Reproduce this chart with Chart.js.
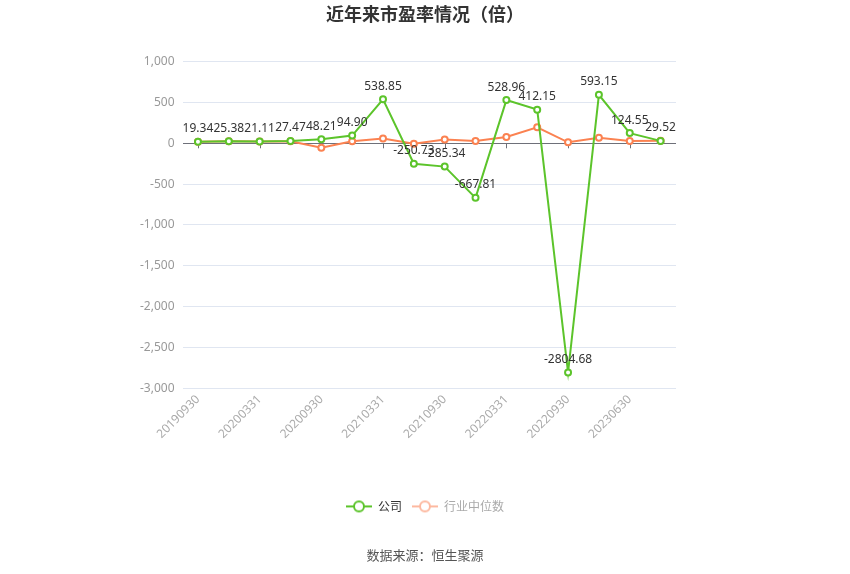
<!DOCTYPE html>
<html>
<head>
<meta charset="utf-8">
<script src="https://cdn.jsdelivr.net/npm/chart.js@4/dist/chart.umd.min.js"></script>
<style>
  html, body { margin: 0; padding: 0; background: #fff; }
  #wrap { width: 850px; height: 574px; }
</style>
</head>
<body>
<div id="wrap"><canvas id="peChart"></canvas></div>
<script>
const dates = ["20190930", "20191231", "20200331", "20200630", "20200930", "20201231", "20210331", "20210630",
  "20210930", "20211231", "20220331", "20220630", "20220930", "20230331", "20230630", "20230930"];
const companyPE = [19.34, 25.38, 21.11, 27.47, 48.21, 94.90, 538.85, -250.73,
  -285.34, -667.81, 528.96, 412.15, -2804.68, 593.15, 124.55, 29.52];
const industryPE = [20, 25, 22, 25, -53, 26, 60, -5, 45, 28, 77, 195, 12, 69, 28, 32];
const yTicks = [1000, 500, 0, -500, -1000, -1500, -2000, -2500, -3000];

const green = "#5cc42b";
const orange = "#fb8251";
const FONT = "'Noto Sans', 'Noto Sans CJK SC', sans-serif";
const CJK = "'Noto Sans CJK SC', sans-serif";

// legend icon: short line with hollow circle in the middle
function legendIcon(color) {
  const c = document.createElement("canvas");
  c.width = 26; c.height = 14;
  const g = c.getContext("2d");
  g.strokeStyle = color;
  g.lineWidth = 2;
  g.beginPath(); g.moveTo(0, 7); g.lineTo(26, 7); g.stroke();
  g.fillStyle = "#fff";
  g.beginPath(); g.arc(13, 7, 5, 0, Math.PI * 2); g.fill(); g.stroke();
  return c;
}
const icons = [legendIcon(green), legendIcon("#fdb9a0")];
const legendTextColors = ["#333", "#aaa"];

// value labels above the company points
const valueLabels = {
  id: "valueLabels",
  afterDatasetsDraw(chart) {
    const ctx = chart.ctx;
    const meta = chart.getDatasetMeta(0);
    ctx.save();
    ctx.font = "12px " + FONT;
    ctx.fillStyle = "#333";
    ctx.textAlign = "center";
    ctx.textBaseline = "bottom";
    meta.data.forEach((pt, i) => {
      ctx.fillText(companyPE[i].toFixed(2), pt.x, pt.y - 7);
    });
    ctx.restore();
  }
};

// small ticks hanging under the zero line, at the labelled categories
const zeroTicks = {
  id: "zeroTicks",
  beforeDatasetsDraw(chart) {
    const { ctx, scales: { x, y } } = chart;
    const y0 = y.getPixelForValue(0);
    ctx.save();
    ctx.strokeStyle = "#6e7079";
    ctx.lineWidth = 1;
    for (let i = 0; i < dates.length; i += 2) {
      const px = Math.round(x.getPixelForValue(i)) + 0.5;
      ctx.beginPath(); ctx.moveTo(px, y0); ctx.lineTo(px, y0 + 5); ctx.stroke();
    }
    ctx.restore();
  }
};

new Chart(document.getElementById("peChart"), {
  type: "line",
  data: {
    labels: dates,
    datasets: [
      {
        label: "公司",
        data: companyPE,
        borderColor: green,
        borderWidth: 2,
        pointRadius: 3,
        pointBorderWidth: 2,
        pointBackgroundColor: "#fff",
        pointBorderColor: green,
        tension: 0
      },
      {
        label: "行业中位数",
        data: industryPE,
        borderColor: orange,
        borderWidth: 2,
        pointRadius: 3,
        pointBorderWidth: 2,
        pointBackgroundColor: "#fff",
        pointBorderColor: orange,
        tension: 0
      }
    ]
  },
  options: {
    responsive: true,
    maintainAspectRatio: false,
    animation: false,
    layout: { padding: { left: 132, right: 132, top: 3, bottom: 11 } },
    plugins: {
      title: {
        display: true,
        text: "近年来市盈率情况（倍）",
        color: "#333",
        font: { family: CJK, size: 18, weight: "bold" },
        padding: { top: 0, bottom: 37 }
      },
      subtitle: {
        display: true,
        position: "bottom",
        text: "数据来源：恒生聚源",
        color: "#555",
        font: { family: CJK, size: 13 },
        padding: { top: 25, bottom: 0 }
      },
      legend: {
        position: "bottom",
        labels: {
          usePointStyle: true,
          pointStyleWidth: 26,
          font: { family: CJK, size: 12 },
          padding: 10,
          generateLabels(chart) {
            const items = Chart.defaults.plugins.legend.labels.generateLabels(chart);
            return items.map((it, i) => Object.assign(it, { pointStyle: icons[i], fontColor: legendTextColors[i] }));
          }
        }
      },
      tooltip: { enabled: false }
    },
    scales: {
      x: {
        offset: true,
        grid: { display: false, drawTicks: false },
        border: { display: false },
        afterFit: axis => { axis.height += 45; },
        ticks: {
          autoSkip: false,
          maxRotation: 45,
          minRotation: 45,
          color: "#aaa",
          font: { family: FONT, size: 12 },
          padding: 4,
          callback: (v, i) => (i % 2 === 0 ? dates[i] : "")
        }
      },
      y: {
        min: -3000,
        max: 1000,
        afterBuildTicks: axis => { axis.ticks = yTicks.map(v => ({ value: v })); },
        grid: {
          color: ctx => (ctx.tick && ctx.tick.value === 0 ? "#6e7079" : "#e0e6f1"),
          drawTicks: false
        },
        border: { display: false },
        ticks: {
          color: "#999",
          font: { family: FONT, size: 12 },
          padding: 8,
          callback: v => v.toLocaleString("en-US")
        }
      },
      // empty right-hand axis, only keeps the plot clear of the right edge
      yRight: {
        position: "right",
        min: -3000,
        max: 1000,
        grid: { display: false, drawTicks: false },
        border: { display: false },
        ticks: { display: false },
        afterFit: axis => { axis.width = 42; }
      }
    }
  },
  plugins: [zeroTicks, valueLabels]
});
</script>
</body>
</html>
